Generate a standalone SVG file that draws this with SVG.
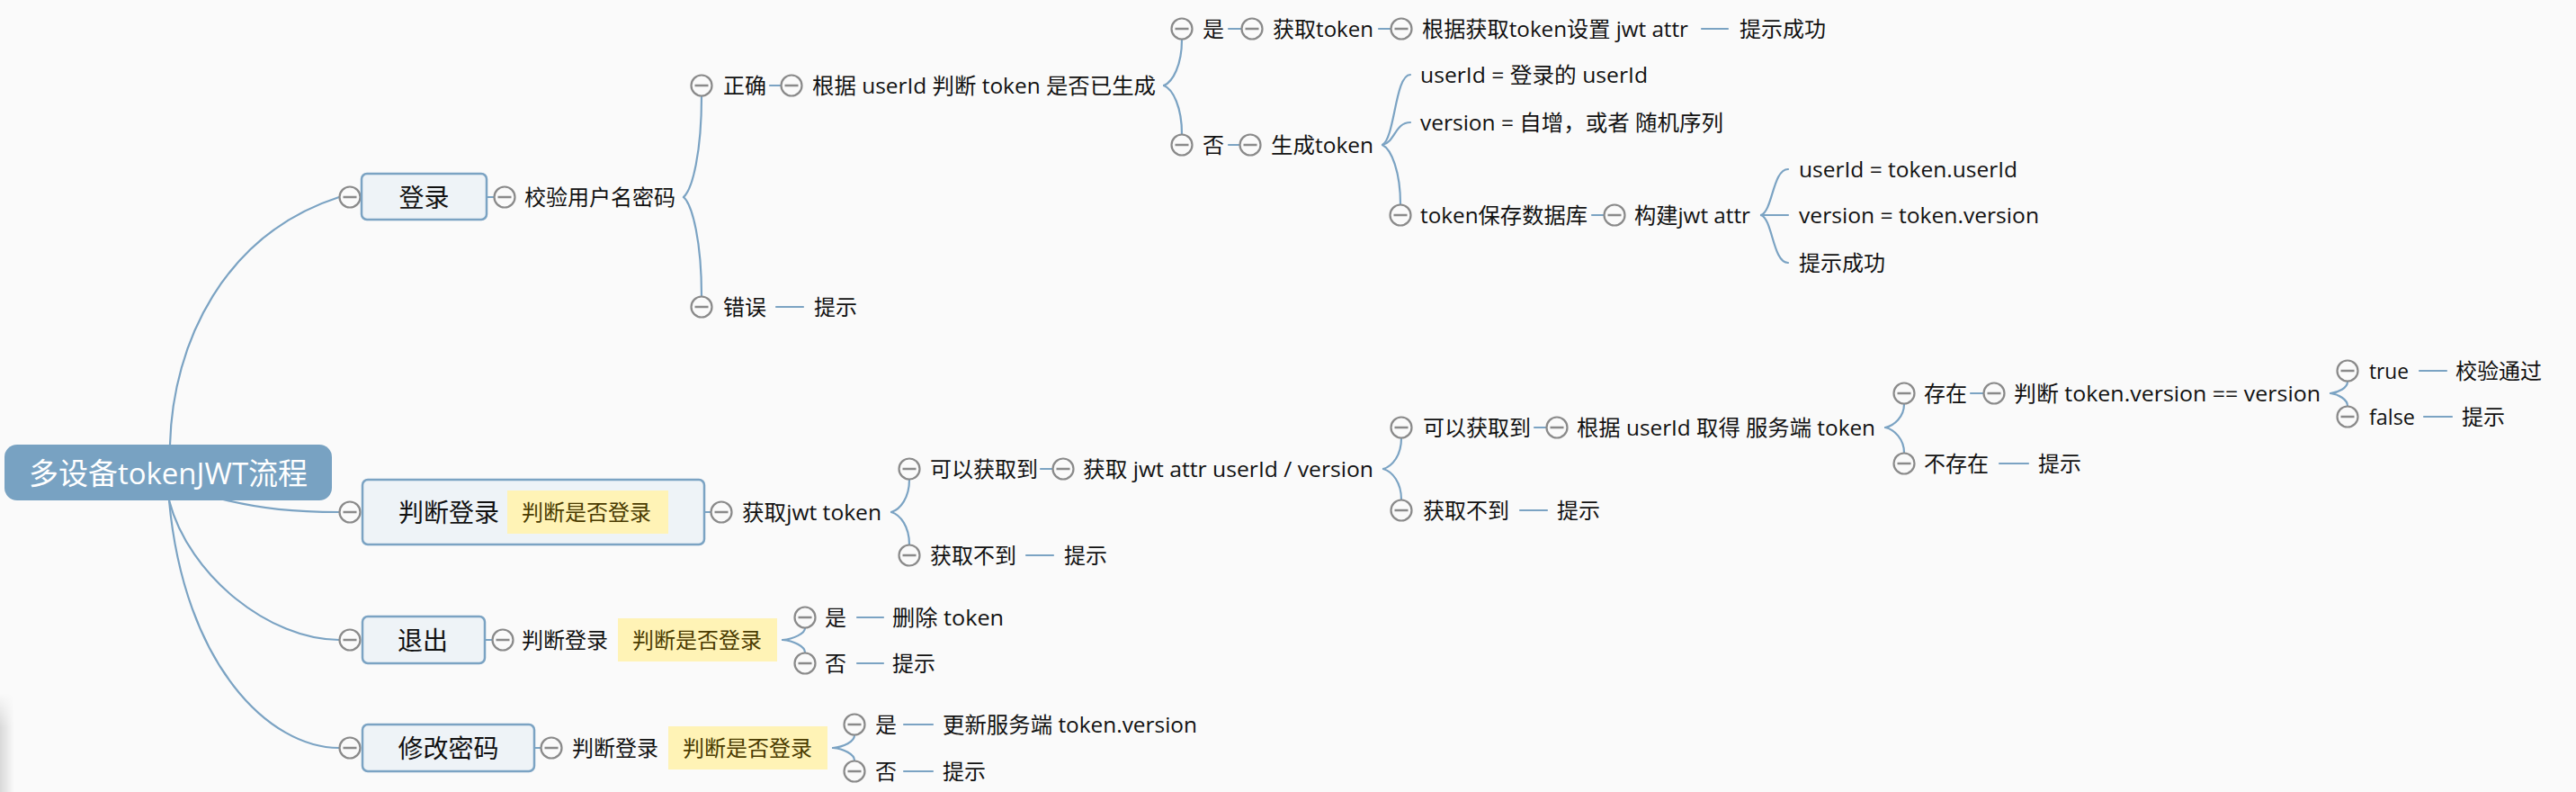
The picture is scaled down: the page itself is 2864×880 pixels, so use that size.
<svg xmlns="http://www.w3.org/2000/svg" xmlns:xlink="http://www.w3.org/1999/xlink" width="2864" height="880" viewBox="0 0 2864 880">
<style>
  text { font-family: "Open Sans", "Noto Sans CJK SC", "Noto Sans", sans-serif; fill: #111; }
  .t { font-size: 24px; }
  .t1 { font-size: 28px; }
  .root { font-size: 33px; fill: #ffffff; }
  .hl { font-size: 24px; fill: #4a3b00; }
  .box { fill: #EEF3F7; stroke: #7BA3C3; stroke-width: 2.5; }
  .hlbox { fill: #FFF3B6; }
  .ln { fill: none; stroke: #7BA3C3; stroke-width: 2.2; stroke-linecap: round; }
  .cc { fill: #FAFAFA; stroke: #8A8A8A; stroke-width: 2.2; }
  .cm { stroke: #8A8A8A; stroke-width: 2.5; }
</style>
<defs>
  <g id="col">
    <circle class="cc" cx="0" cy="0" r="11.5"/>
    <line class="cm" x1="-7.5" y1="0" x2="7.5" y2="0"/>
  </g>
  <linearGradient id="shadowH" x1="0" y1="0" x2="1" y2="0">
    <stop offset="0" stop-color="#000" stop-opacity="0.13"/>
    <stop offset="1" stop-color="#000" stop-opacity="0"/>
  </linearGradient>
  <linearGradient id="shadowV" x1="0" y1="0" x2="0" y2="1">
    <stop offset="0" stop-color="#fff" stop-opacity="0"/>
    <stop offset="0.35" stop-color="#fff" stop-opacity="1"/>
    <stop offset="1" stop-color="#fff" stop-opacity="1"/>
  </linearGradient>
  <mask id="shadowMask"><rect x="0" y="770" width="20" height="110" fill="url(#shadowV)"/></mask>
</defs>
<rect x="0" y="0" width="2864" height="880" fill="#FAFAFA"/>
<rect x="0" y="770" width="16" height="110" fill="url(#shadowH)" mask="url(#shadowMask)"/>

<g id="connectors">
  <path class="ln" d="M189 494 C192 380 250 260 377 219"/>
  <path class="ln" d="M240 553 C290 566 330 569 377 569"/>
  <path class="ln" d="M188 556 C210 640 300 711 377 711"/>
  <path class="ln" d="M188 556 C205 740 300 831 377 831"/>
  <path class="ln" d="M541 219 H549"/>
  <path class="ln" d="M856 95 H868"/>
  <path class="ln" d="M1366 32 H1380"/>
  <path class="ln" d="M1533 32 H1546"/>
  <path class="ln" d="M1366 161 H1378"/>
  <path class="ln" d="M1770 239 H1783"/>
  <path class="ln" d="M783 569 H790"/>
  <path class="ln" d="M1157 521 H1170"/>
  <path class="ln" d="M1706 475 H1719"/>
  <path class="ln" d="M2191 437 H2205"/>
  <path class="ln" d="M539 711 H547"/>
  <path class="ln" d="M594 831 H601"/>
  <path class="ln" d="M1892 32 H1921"/>
  <path class="ln" d="M863 341 H893"/>
  <path class="ln" d="M1141 617 H1171"/>
  <path class="ln" d="M1690 567 H1720"/>
  <path class="ln" d="M2223 515 H2255"/>
  <path class="ln" d="M2690 412 H2720"/>
  <path class="ln" d="M2695 463 H2726"/>
  <path class="ln" d="M953 686 H982"/>
  <path class="ln" d="M953 737 H982"/>
  <path class="ln" d="M1005 805 H1037"/>
  <path class="ln" d="M1005 857 H1037"/>
  <path class="ln" d="M760 219 C770 210 780 169 780 107"/>
  <path class="ln" d="M760 219 C770 228 780 269 780 329"/>
  <path class="ln" d="M1294 95 C1304 91 1314 72 1314 44"/>
  <path class="ln" d="M1294 95 C1304 99 1314 119 1314 149"/>
  <path class="ln" d="M1537 161 C1551 153 1551 83 1568 83"/>
  <path class="ln" d="M1537 161 C1551 158 1551 136 1568 136"/>
  <path class="ln" d="M1537 161 C1547 166 1557 191 1557 227"/>
  <path class="ln" d="M1958 239 C1971 234 1971 188 1988 188"/>
  <path class="ln" d="M1958 239 H1988"/>
  <path class="ln" d="M1958 239 C1971 244 1971 292 1988 292"/>
  <path class="ln" d="M991 569 C1001 566 1011 553 1011 533"/>
  <path class="ln" d="M991 569 C1001 572 1011 585 1011 605"/>
  <path class="ln" d="M1538 521 C1548 518 1558 506 1558 487"/>
  <path class="ln" d="M1538 521 C1548 524 1558 536 1558 555"/>
  <path class="ln" d="M2096 475 C2106 473 2117 463 2117 449"/>
  <path class="ln" d="M2096 475 C2106 477 2117 488 2117 503"/>
  <path class="ln" d="M2591 437 C2600 436 2610 431 2610 424"/>
  <path class="ln" d="M2591 437 C2600 438 2610 444 2610 451"/>
  <path class="ln" d="M870 711 C882 710 895 704 895 698"/>
  <path class="ln" d="M870 711 C882 712 895 718 895 725"/>
  <path class="ln" d="M926 831 C938 830 950 824 950 817"/>
  <path class="ln" d="M926 831 C938 832 950 838 950 845"/>
</g>

<g id="root">
  <rect x="5" y="494" width="364" height="62" rx="14" fill="#78A2C2"/>
  <text class="root" x="32" y="537.5" textLength="310" lengthAdjust="spacingAndGlyphs">多设备tokenJWT流程</text>
</g>

<g id="n-login">
  <use href="#col" x="389" y="219"/>
  <rect class="box" x="402" y="193" width="139" height="51" rx="6"/>
  <text class="t1" x="471.5" y="229.5" text-anchor="middle">登录</text>
</g>
<g id="n-check-pwd"><use href="#col" x="561" y="219"/><text class="t" x="583" y="228">校验用户名密码</text></g>
<g id="n-correct"><use href="#col" x="780" y="95"/><text class="t" x="804" y="104">正确</text></g>
<g id="n-judge-gen"><use href="#col" x="880" y="95"/><text class="t" x="903" y="104" textLength="382" lengthAdjust="spacingAndGlyphs">根据 userId 判断 token 是否已生成</text></g>
<g id="n-yes1"><use href="#col" x="1314" y="32"/><text class="t" x="1337" y="41">是</text></g>
<g id="n-get-token"><use href="#col" x="1392" y="32"/><text class="t" x="1415" y="41" textLength="112" lengthAdjust="spacingAndGlyphs">获取token</text></g>
<g id="n-set-attr"><use href="#col" x="1558" y="32"/><text class="t" x="1581" y="41" textLength="296" lengthAdjust="spacingAndGlyphs">根据获取token设置 jwt attr</text></g>
<g id="n-ok1"><text class="t" x="1934" y="41">提示成功</text></g>
<g id="n-no1"><use href="#col" x="1314" y="161"/><text class="t" x="1337" y="170">否</text></g>
<g id="n-gen-token"><use href="#col" x="1390" y="161"/><text class="t" x="1413" y="170" textLength="114" lengthAdjust="spacingAndGlyphs">生成token</text></g>
<g id="n-uid"><text class="t" x="1579" y="92" textLength="253" lengthAdjust="spacingAndGlyphs">userId = 登录的 userId</text></g>
<g id="n-ver"><text class="t" x="1579" y="145" textLength="337" lengthAdjust="spacingAndGlyphs">version = 自增，或者 随机序列</text></g>
<g id="n-save"><use href="#col" x="1557" y="239"/><text class="t" x="1579" y="248" textLength="186" lengthAdjust="spacingAndGlyphs">token保存数据库</text></g>
<g id="n-build"><use href="#col" x="1795" y="239"/><text class="t" x="1817" y="248" textLength="129" lengthAdjust="spacingAndGlyphs">构建jwt attr</text></g>
<g id="n-uid2"><text class="t" x="2000" y="197" textLength="243" lengthAdjust="spacingAndGlyphs">userId = token.userId</text></g>
<g id="n-ver2"><text class="t" x="2000" y="248" textLength="267" lengthAdjust="spacingAndGlyphs">version = token.version</text></g>
<g id="n-ok2"><text class="t" x="2000" y="301">提示成功</text></g>
<g id="n-wrong"><use href="#col" x="780" y="341"/><text class="t" x="804" y="350">错误</text></g>
<g id="n-tip1"><text class="t" x="905" y="350">提示</text></g>

<g id="n-judge-login">
  <use href="#col" x="389" y="569"/>
  <rect class="box" x="403" y="533" width="380" height="72" rx="6"/>
  <text class="t1" x="443" y="579.5">判断登录</text>
  <rect class="hlbox" x="564" y="545" width="179" height="48"/>
  <text class="hl" x="580" y="578">判断是否登录</text>
</g>
<g id="n-get-jwt"><use href="#col" x="802" y="569"/><text class="t" x="825" y="578" textLength="155" lengthAdjust="spacingAndGlyphs">获取jwt token</text></g>
<g id="n-can-get1"><use href="#col" x="1011" y="521"/><text class="t" x="1034" y="530">可以获取到</text></g>
<g id="n-get-attr"><use href="#col" x="1182" y="521"/><text class="t" x="1204" y="530" textLength="323" lengthAdjust="spacingAndGlyphs">获取 jwt attr userId / version</text></g>
<g id="n-can-get2"><use href="#col" x="1558" y="475"/><text class="t" x="1582" y="484">可以获取到</text></g>
<g id="n-fetch-server"><use href="#col" x="1731" y="475"/><text class="t" x="1753" y="484" textLength="332" lengthAdjust="spacingAndGlyphs">根据 userId 取得 服务端 token</text></g>
<g id="n-exist"><use href="#col" x="2117" y="437"/><text class="t" x="2139" y="446">存在</text></g>
<g id="n-cmp"><use href="#col" x="2217" y="437"/><text class="t" x="2239" y="446" textLength="341" lengthAdjust="spacingAndGlyphs">判断 token.version == version</text></g>
<g id="n-true"><use href="#col" x="2610" y="412"/><text class="t" x="2634" y="421" textLength="44" lengthAdjust="spacingAndGlyphs">true</text></g>
<g id="n-pass"><text class="t" x="2730" y="421">校验通过</text></g>
<g id="n-false"><use href="#col" x="2610" y="463"/><text class="t" x="2634" y="472" textLength="51" lengthAdjust="spacingAndGlyphs">false</text></g>
<g id="n-tip2"><text class="t" x="2737" y="472">提示</text></g>
<g id="n-not-exist"><use href="#col" x="2117" y="515"/><text class="t" x="2139" y="524">不存在</text></g>
<g id="n-tip3"><text class="t" x="2266" y="524">提示</text></g>
<g id="n-cant-get2"><use href="#col" x="1558" y="567"/><text class="t" x="1582" y="576">获取不到</text></g>
<g id="n-tip4"><text class="t" x="1731" y="576">提示</text></g>
<g id="n-cant-get1"><use href="#col" x="1011" y="617"/><text class="t" x="1034" y="626">获取不到</text></g>
<g id="n-tip5"><text class="t" x="1183" y="626">提示</text></g>

<g id="n-logout">
  <use href="#col" x="389" y="711"/>
  <rect class="box" x="403" y="685" width="136" height="52" rx="6"/>
  <text class="t1" x="470" y="721.5" text-anchor="middle">退出</text>
</g>
<g id="n-logout-judge">
  <use href="#col" x="559" y="711"/>
  <text class="t" x="580" y="720">判断登录</text>
  <rect class="hlbox" x="687" y="687" width="177" height="48"/>
  <text class="hl" x="703" y="720">判断是否登录</text>
</g>
<g id="n-logout-yes"><use href="#col" x="895" y="686"/><text class="t" x="917" y="695">是</text></g>
<g id="n-del-token"><text class="t" x="992" y="695" textLength="124" lengthAdjust="spacingAndGlyphs">删除 token</text></g>
<g id="n-logout-no"><use href="#col" x="895" y="737"/><text class="t" x="917" y="746">否</text></g>
<g id="n-tip6"><text class="t" x="992" y="746">提示</text></g>

<g id="n-change-pwd">
  <use href="#col" x="389" y="831"/>
  <rect class="box" x="403" y="805" width="191" height="52" rx="6"/>
  <text class="t1" x="498.5" y="841.5" text-anchor="middle">修改密码</text>
</g>
<g id="n-change-judge">
  <use href="#col" x="613" y="831"/>
  <text class="t" x="636" y="840">判断登录</text>
  <rect class="hlbox" x="743" y="807" width="177" height="48"/>
  <text class="hl" x="759" y="840">判断是否登录</text>
</g>
<g id="n-change-yes"><use href="#col" x="950" y="805"/><text class="t" x="973" y="814">是</text></g>
<g id="n-update-ver"><text class="t" x="1048" y="814" textLength="283" lengthAdjust="spacingAndGlyphs">更新服务端 token.version</text></g>
<g id="n-change-no"><use href="#col" x="950" y="857"/><text class="t" x="973" y="866">否</text></g>
<g id="n-tip7"><text class="t" x="1048" y="866">提示</text></g>
</svg>
